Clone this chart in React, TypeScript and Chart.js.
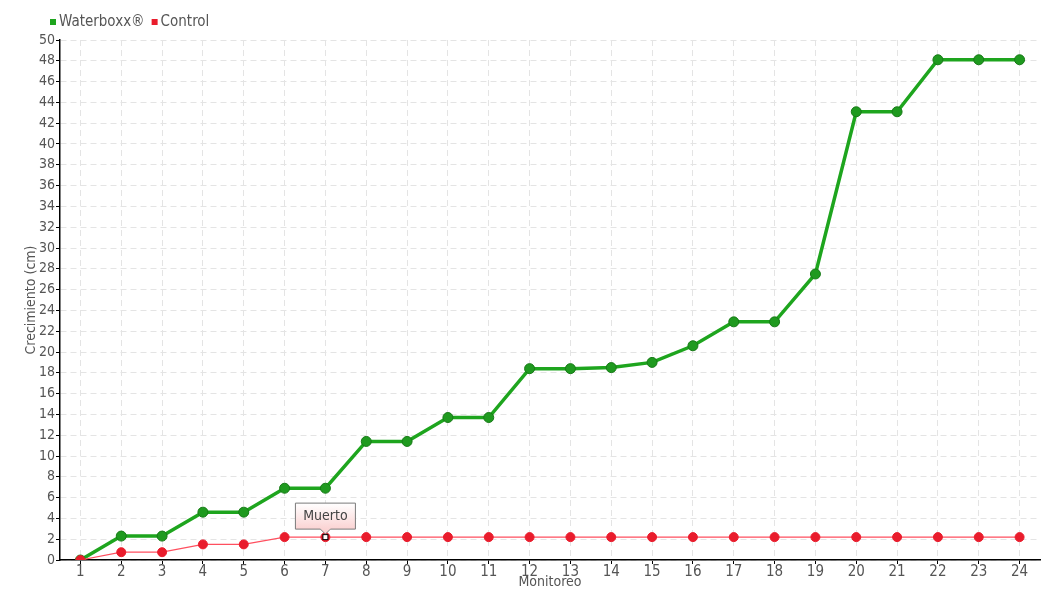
import React, { useEffect, useRef } from "react";
import { Chart, registerables } from "chart.js";

Chart.register(...registerables);

const categories = ["1", "2", "3", "4", "5", "6", "7", "8", "9", "10", "11", "12", "13", "14", "15", "16", "17", "18", "19", "20", "21", "22", "23", "24"];
const waterboxxValues = [0, 2.3, 2.3, 4.6, 4.6, 6.9, 6.9, 11.4, 11.4, 13.7, 13.7, 18.4, 18.4, 18.5, 19.0, 20.6, 22.9, 22.9, 27.5, 43.1, 43.1, 48.1, 48.1, 48.1];
const controlValues = [0, 0.75, 0.75, 1.5, 1.5, 2.2, 2.2, 2.2, 2.2, 2.2, 2.2, 2.2, 2.2, 2.2, 2.2, 2.2, 2.2, 2.2, 2.2, 2.2, 2.2, 2.2, 2.2, 2.2];
const seriesNames = ["Waterboxx®", "Control"];
const annotationIndex = 6;
const annotationText = "Muerto";
const yMin = 0;
const yMax = 50;
const yStep = 2;
const yTitle = "Crecimiento (cm)";
const xTitle = "Monitoreo";

const FONT = "'DejaVu Sans Condensed', 'Liberation Sans Narrow', sans-serif";
const TEXT = "#555555";
const GREEN = "#1ea51e";
const GREEN_PT = "#1f9a1f";
const GREEN_BORDER = "#177a17";
const RED = "#ff4f5f";
const RED_PT = "#e91c2c";

const customLegend = {
  id: "customLegend",
  afterDraw(chart: any) {
    const ctx = chart.ctx;
    ctx.save();
    ctx.font = `15px ${FONT}`;
    ctx.textBaseline = "middle";
    ctx.textAlign = "left";
    let x = 50;
    const y = 22;
    const colors = [GREEN, RED_PT];
    seriesNames.forEach((name, i) => {
      ctx.fillStyle = colors[i];
      ctx.fillRect(x, y - 3, 6, 6);
      ctx.fillStyle = TEXT;
      ctx.fillText(name, x + 9, y);
      x += 9 + ctx.measureText(name).width + 7;
    });
    ctx.restore();
  },
};

const annotationPlugin = {
  id: "muertoLabel",
  afterDatasetsDraw(chart: any) {
    const meta = chart.getDatasetMeta(1);
    const el = meta.data[annotationIndex];
    if (!el) return;
    const { x, y } = el;
    const ctx = chart.ctx;
    ctx.save();
    ctx.fillStyle = "#ffffff";
    ctx.strokeStyle = "#000000";
    ctx.lineWidth = 1;
    ctx.fillRect(x - 2.5, y - 2.5, 5, 5);
    ctx.strokeRect(x - 2.5, y - 2.5, 5, 5);
    const w = 60;
    const h = 26;
    const bottom = y - 8;
    const top = bottom - h;
    const left = x - w / 2;
    const grad = ctx.createLinearGradient(0, top, 0, bottom);
    grad.addColorStop(0, "#ffffff");
    grad.addColorStop(1, "#fbd3d3");
    ctx.beginPath();
    ctx.moveTo(left, top);
    ctx.lineTo(left + w, top);
    ctx.lineTo(left + w, bottom);
    ctx.lineTo(x + 5, bottom);
    ctx.lineTo(x, bottom + 5);
    ctx.lineTo(x - 5, bottom);
    ctx.lineTo(left, bottom);
    ctx.closePath();
    ctx.fillStyle = grad;
    ctx.fill();
    ctx.strokeStyle = "#7a7a7a";
    ctx.stroke();
    ctx.fillStyle = "#444444";
    ctx.font = `14px ${FONT}`;
    ctx.textAlign = "center";
    ctx.textBaseline = "middle";
    ctx.fillText(annotationText, x, top + h / 2);
    ctx.restore();
  },
};

export default function App() {
  const canvasRef = useRef<HTMLCanvasElement | null>(null);

  useEffect(() => {
    if (!canvasRef.current) return;
    const chart = new Chart(canvasRef.current, {
      type: "line",
      data: {
        labels: categories,
        datasets: [
          {
            label: seriesNames[0],
            data: waterboxxValues,
            borderColor: GREEN,
            borderWidth: 3.5,
            pointRadius: 5,
            pointBackgroundColor: GREEN_PT,
            pointBorderColor: GREEN_BORDER,
            pointBorderWidth: 1,
            tension: 0,
            order: 1,
          },
          {
            label: seriesNames[1],
            data: controlValues,
            borderColor: RED,
            borderWidth: 1.2,
            pointRadius: 4.5,
            pointBackgroundColor: RED_PT,
            pointBorderColor: RED_PT,
            pointBorderWidth: 1,
            tension: 0,
            order: 0,
          },
        ],
      },
      options: {
        responsive: false,
        animation: false,
        devicePixelRatio: 1,
        layout: { padding: { top: 40, right: 20, left: 0, bottom: 0 } },
        plugins: {
          legend: { display: false },
          tooltip: { enabled: false },
        },
        scales: {
          x: {
            offset: true,
            grid: {
              offset: false,
              color: "#e4e4e4",
              lineWidth: 1,
              tickColor: "#000000",
              tickLength: 4,
              tickBorderDash: [],
            },
            border: { display: true, color: "#000000", width: 1.5, dash: [6, 4] },
            ticks: { color: TEXT, font: { family: FONT, size: 15 }, padding: -1, maxRotation: 0, autoSkip: false },
            title: { display: true, text: xTitle, color: TEXT, font: { family: FONT, size: 14 }, padding: { top: 0, bottom: 9 } },
            afterFit: (scale: any) => {
              scale.height = 40;
            },
          },
          y: {
            min: yMin,
            max: yMax,
            grid: {
              color: "#e4e4e4",
              lineWidth: 1,
              tickColor: "#000000",
              tickLength: 4,
              tickBorderDash: [],
            },
            border: { display: true, color: "#000000", width: 1.5, dash: [6, 4] },
            ticks: { stepSize: yStep, color: TEXT, font: { family: FONT, size: 14 }, padding: 1, autoSkip: false },
            title: { display: true, text: yTitle, color: TEXT, font: { family: FONT, size: 14 }, padding: { top: 23, bottom: 23 } },
            afterFit: (scale: any) => {
              scale.width = 60;
            },
          },
        },
      },
      plugins: [customLegend, annotationPlugin],
    });
    return () => chart.destroy();
  }, []);

  return (
    <div style={{ position: "fixed", left: 0, top: 0, width: 1060, height: 600, background: "#ffffff" }}>
      <canvas ref={canvasRef} width={1060} height={600} style={{ width: 1060, height: 600, display: "block" }} />
    </div>
  );
}
